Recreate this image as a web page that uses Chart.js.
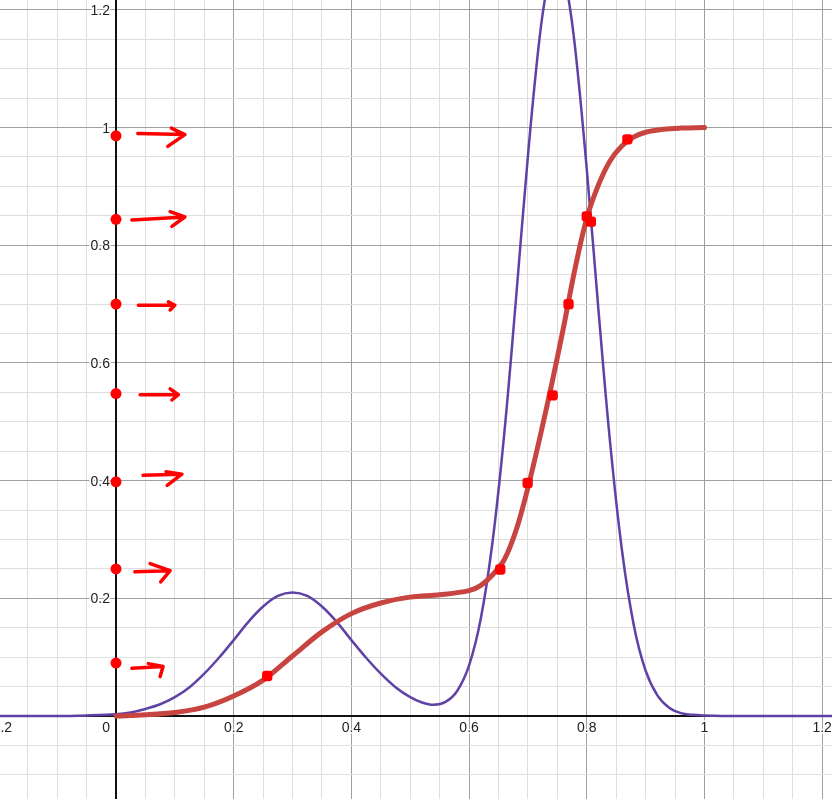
<!DOCTYPE html>
<html>
<head>
<meta charset="utf-8">
<script src="https://cdn.jsdelivr.net/npm/chart.js@4.4.0/dist/chart.umd.min.js"></script>
<style>
html,body{margin:0;padding:0;background:#fff;overflow:hidden;}
#wrap{width:832px;height:799px;position:relative;}
</style>
</head>
<body>
<div id="wrap"><canvas id="c"></canvas></div>
<script>
// ---- data ----
const purpleX = [-0.25, -0.1, -0.05, 0, 0.025, 0.05, 0.075, 0.1, 0.125, 0.15, 0.175, 0.2, 0.225, 0.25, 0.275, 0.3, 0.325, 0.35, 0.375, 0.4, 0.425, 0.45, 0.475, 0.5, 0.52, 0.54, 0.56, 0.58, 0.6, 0.62, 0.64, 0.66, 0.68, 0.7, 0.72, 0.735, 0.75, 0.765, 0.78, 0.8, 0.82, 0.84, 0.86, 0.88, 0.9, 0.92, 0.94, 0.96, 0.98, 1.0, 1.05, 1.25];
const purpleY = [0, 0, 0.001, 0.003, 0.006, 0.012, 0.020, 0.032, 0.049, 0.072, 0.099, 0.129, 0.160, 0.186, 0.204, 0.210, 0.204, 0.186, 0.160, 0.129, 0.099, 0.072, 0.049, 0.032, 0.023, 0.019, 0.024, 0.043, 0.086, 0.166, 0.297, 0.482, 0.712, 0.952, 1.154, 1.249, 1.280, 1.240, 1.137, 0.929, 0.688, 0.461, 0.280, 0.154, 0.077, 0.035, 0.014, 0.005, 0.002, 0.001, 0, 0];

const redX = [0, 0.05, 0.1, 0.15, 0.2, 0.25, 0.3, 0.35, 0.4, 0.45, 0.5, 0.55, 0.6, 0.62, 0.64, 0.66, 0.68, 0.7, 0.72, 0.74, 0.76, 0.78, 0.8, 0.82, 0.84, 0.86, 0.88, 0.9, 0.93, 0.96, 1.0];
const redY = [0, 0.002, 0.006, 0.015, 0.034, 0.061, 0.102, 0.143, 0.174, 0.192, 0.202, 0.206, 0.213, 0.222, 0.240, 0.266, 0.316, 0.388, 0.472, 0.562, 0.658, 0.760, 0.846, 0.903, 0.944, 0.969, 0.984, 0.992, 0.997, 0.999, 1.0];

const axisDotY = [0.986, 0.844, 0.700, 0.548, 0.398, 0.250, 0.090];
const curveDotX = [0.257, 0.653, 0.6995, 0.742, 0.769, 0.800, 0.807, 0.869];
const curveDotY = [0.068, 0.249, 0.396, 0.545, 0.700, 0.849, 0.840, 0.980];

// hand-drawn arrows: [shaft start, tip, upper barb, lower barb]
const arrowPaths = [
  [[0.037, 0.990], [0.117, 0.988], [0.094, 0.999], [0.088, 0.968]],
  [[0.027, 0.843], [0.117, 0.848], [0.092, 0.857], [0.095, 0.832]],
  [[0.038, 0.698], [0.100, 0.698], [0.089, 0.704], [0.092, 0.690]],
  [[0.041, 0.546], [0.106, 0.546], [0.092, 0.556], [0.095, 0.537]],
  [[0.046, 0.409], [0.112, 0.411], [0.085, 0.415], [0.087, 0.392]],
  [[0.032, 0.245], [0.092, 0.247], [0.058, 0.259], [0.076, 0.228]],
  [[0.027, 0.081], [0.080, 0.084], [0.055, 0.089], [0.075, 0.067]]
];

const xTickValues = [-0.2, 0, 0.2, 0.4, 0.6, 0.8, 1, 1.2];
const xTickLabels = ['\u22120.2', '0', '0.2', '0.4', '0.6', '0.8', '1', '1.2'];
const yTickValues = [0.2, 0.4, 0.6, 0.8, 1, 1.2];
const yTickLabels = ['0.2', '0.4', '0.6', '0.8', '1', '1.2'];

// ---- chart ----
const toPts = (xs, ys) => xs.map((x, i) => ({x: x, y: ys[i]}));
const RED = '#ff0000';

const arrowSets = arrowPaths.map(p => ({
  label: 'arrow',
  data: [p[0], p[1], p[2], p[1], p[3]].map(q => ({x: q[0], y: q[1]})),
  showLine: true,
  borderColor: RED,
  backgroundColor: RED,
  borderWidth: 3.5,
  pointRadius: 0,
  tension: 0,
  borderCapStyle: 'round',
  borderJoinStyle: 'round',
  order: 1
}));

const isMajor = v => Math.abs(v * 5 - Math.round(v * 5)) < 1e-6;
const isZero = v => Math.abs(v) < 1e-9;
const gridOpts = {
  drawTicks: false,
  color: c => isZero(c.tick.value) ? 'rgba(0,0,0,0)' : (isMajor(c.tick.value) ? '#a0a0a0' : '#dedede'),
  lineWidth: 1
};

const decor = {
  id: 'decor',
  beforeDatasetsDraw(chart) {
    const {ctx, chartArea: a} = chart;
    const sx = chart.scales.x, sy = chart.scales.y;
    const x0 = sx.getPixelForValue(0), y0 = sy.getPixelForValue(0);
    ctx.save();
    ctx.strokeStyle = '#111';
    ctx.lineWidth = 2;
    ctx.beginPath();
    ctx.moveTo(Math.round(x0), a.top); ctx.lineTo(Math.round(x0), a.bottom);
    ctx.moveTo(a.left, Math.round(y0)); ctx.lineTo(a.right, Math.round(y0));
    ctx.stroke();
    ctx.font = '14px "Liberation Sans", Arial, sans-serif';
    ctx.fillStyle = '#222';
    ctx.strokeStyle = '#ffffff';
    ctx.lineWidth = 3;
    ctx.lineJoin = 'round';
    ctx.textBaseline = 'alphabetic';
    xTickValues.forEach((v, i) => {
      let tx = sx.getPixelForValue(v);
      ctx.textAlign = 'center';
      if (isZero(v)) { tx = x0 - 6; ctx.textAlign = 'right'; }
      ctx.strokeText(xTickLabels[i], tx, y0 + 16);
      ctx.fillText(xTickLabels[i], tx, y0 + 16);
    });
    ctx.textAlign = 'right';
    yTickValues.forEach((v, i) => {
      const py = sy.getPixelForValue(v);
      ctx.strokeText(yTickLabels[i], x0 - 6, py + 5);
      ctx.fillText(yTickLabels[i], x0 - 6, py + 5);
    });
    ctx.restore();
  }
};

new Chart(document.getElementById('c'), {
  type: 'scatter',
  data: {
    datasets: [
      {label: 'curve markers', data: toPts(curveDotX, curveDotY), showLine: false,
       pointStyle: 'rectRounded', pointRadius: 6, backgroundColor: RED, borderColor: RED, borderWidth: 0, order: 0},
      {label: 'axis markers', data: axisDotY.map(y => ({x: 0, y: y})), showLine: false,
       pointStyle: 'circle', pointRadius: 5.5, backgroundColor: RED, borderColor: RED, borderWidth: 0, order: 0},
      ...arrowSets,
      {label: 'CDF', data: toPts(redX, redY), showLine: true, borderColor: '#c74440',
       borderWidth: 5, pointRadius: 0, tension: 0.35, borderCapStyle: 'round', order: 2},
      {label: 'PDF', data: toPts(purpleX, purpleY), showLine: true, borderColor: '#6042a6',
       borderWidth: 2.5, pointRadius: 0, tension: 0.35, order: 3}
    ]
  },
  options: {
    responsive: true,
    maintainAspectRatio: false,
    animation: false,
    events: [],
    layout: {padding: 0, autoPadding: false},
    plugins: {legend: {display: false}, tooltip: {enabled: false}},
    scales: {
      x: {
        type: 'linear', min: -0.1971, max: 1.2167, bounds: 'ticks',
        ticks: {display: false, stepSize: 0.05, includeBounds: false, autoSkip: false},
        grid: gridOpts, border: {display: false},
        afterFit: s => { s.height = 0; }
      },
      y: {
        type: 'linear', min: -0.1410, max: 1.2167, bounds: 'ticks',
        ticks: {display: false, stepSize: 0.05, includeBounds: false, autoSkip: false},
        grid: gridOpts, border: {display: false},
        afterFit: s => { s.width = 0; }
      }
    }
  },
  plugins: [decor]
});
</script>
</body>
</html>
